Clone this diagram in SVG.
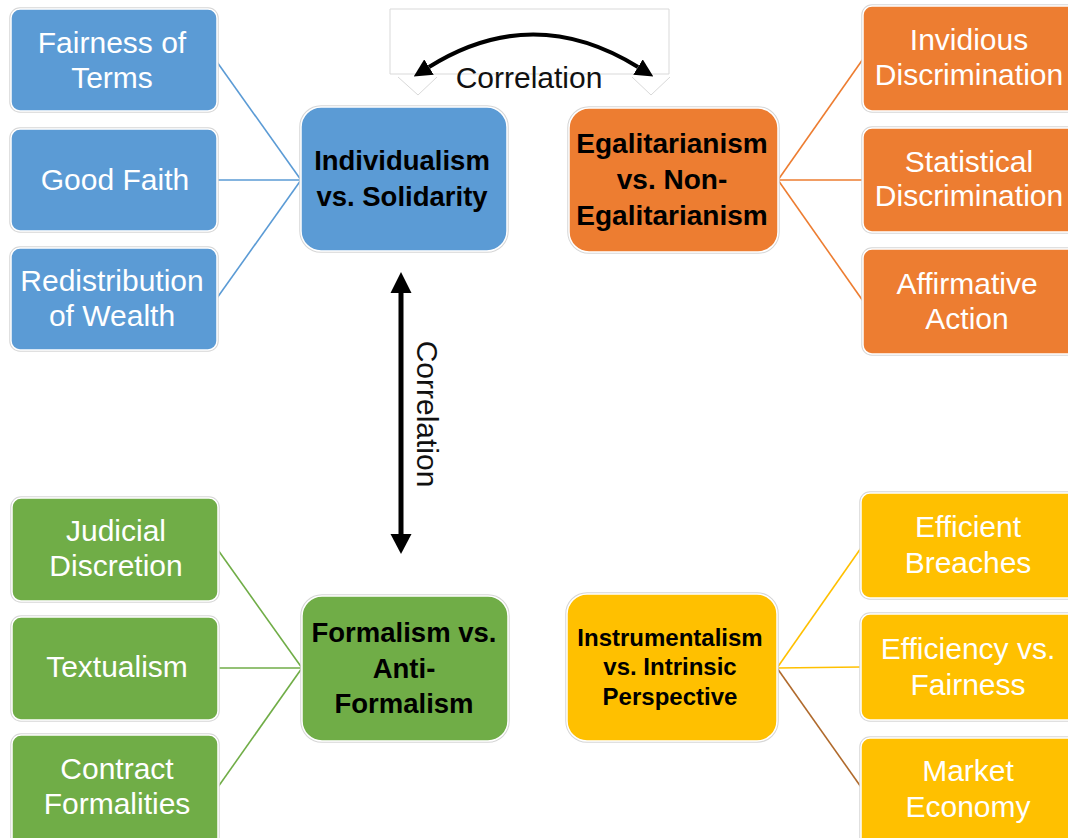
<svg xmlns="http://www.w3.org/2000/svg" width="1068" height="838" viewBox="0 0 1068 838">
<style>
.leaf{font-family:"Liberation Sans",Arial,sans-serif;font-size:30px;fill:#ffffff;text-anchor:middle}
.hub{font-family:"Liberation Sans",Arial,sans-serif;font-weight:bold;fill:#000000;text-anchor:middle}
.lbl{font-family:"Liberation Sans",Arial,sans-serif;font-size:30px;fill:#111111;text-anchor:middle}
.box{stroke:#ffffff;stroke-width:1.5}
.halo{fill:none;stroke:#d6d6d6;stroke-width:3.5}
.blue{fill:#5B9BD5}.orange{fill:#ED7D31}.green{fill:#70AD47}.yellow{fill:#FFC000}
.con{fill:none;stroke-width:1.6}
</style>
<defs>
<marker id="ah" viewBox="0 0 10 10" refX="0" refY="5" markerWidth="18" markerHeight="18" markerUnits="userSpaceOnUse" orient="auto-start-reverse">
<path d="M0,0 L10,5 L0,10 z" fill="#000"/>
</marker>
</defs>
<rect width="1068" height="838" fill="#ffffff"/>

<g id="connectors">
<line class="con" stroke="#5B9BD5" x1="217" y1="62" x2="301" y2="180"/>
<line class="con" stroke="#5B9BD5" x1="217" y1="180" x2="301" y2="180"/>
<line class="con" stroke="#5B9BD5" x1="217" y1="298" x2="301" y2="180"/>
<line class="con" stroke="#ED7D31" x1="778" y1="180" x2="863" y2="59"/>
<line class="con" stroke="#ED7D31" x1="778" y1="180" x2="863" y2="180"/>
<line class="con" stroke="#ED7D31" x1="778" y1="180" x2="863" y2="301"/>
<line class="con" stroke="#70AD47" x1="218" y1="550" x2="302" y2="668"/>
<line class="con" stroke="#70AD47" x1="218" y1="668" x2="302" y2="668"/>
<line class="con" stroke="#70AD47" x1="218" y1="787" x2="302" y2="668"/>
<line class="con" stroke="#FFC000" x1="777" y1="668" x2="861" y2="548"/>
<line class="con" stroke="#FFC000" x1="777" y1="668" x2="861" y2="667"/>
<line class="con" stroke="#B06A2C" x1="777" y1="668" x2="861" y2="787"/>
</g>

<g id="correlation-top">
<path d="M390 74 V9 H669 V74 M390 74 H669 M398 77 L418 95 L437 77 M632 77 L651 95 L670 77" fill="none" stroke="#d9d9d9" stroke-width="1"/>
<path d="M429 67 Q533 2 638 67" fill="none" stroke="#000" stroke-width="4" marker-start="url(#ah)" marker-end="url(#ah)"/>
<text class="lbl" x="529" y="88">Correlation</text>
</g>

<g id="correlation-vertical">
<line x1="401" y1="290" x2="401" y2="537" stroke="#000" stroke-width="5"/>
<polygon points="401,272 411.5,293 390.5,293" fill="#000"/>
<polygon points="401,554 411.5,534 390.5,534" fill="#000"/>
<text class="lbl" x="0" y="0" transform="translate(427,414) rotate(90)" dominant-baseline="central">Correlation</text>
</g>

<g id="hub-individualism">
<rect class="halo" x="301" y="107" width="206" height="144" rx="20"/>
<rect class="box blue" x="301" y="107" width="206" height="144" rx="20"/>
<text class="hub" font-size="27.5" x="402" y="170">Individualism</text>
<text class="hub" font-size="27.5" x="402" y="206">vs. Solidarity</text>
</g>
<g id="leaf-fairness-terms">
<rect class="halo" x="11" y="9" width="206" height="102" rx="9"/>
<rect class="box blue" x="11" y="9" width="206" height="102" rx="9"/>
<text class="leaf" x="112" y="53">Fairness of</text>
<text class="leaf" x="112" y="88">Terms</text>
</g>
<g id="leaf-good-faith">
<rect class="halo" x="11" y="129" width="206" height="102" rx="9"/>
<rect class="box blue" x="11" y="129" width="206" height="102" rx="9"/>
<text class="leaf" x="115" y="190">Good Faith</text>
</g>
<g id="leaf-redistribution">
<rect class="halo" x="11" y="248" width="206" height="102" rx="9"/>
<rect class="box blue" x="11" y="248" width="206" height="102" rx="9"/>
<text class="leaf" x="112" y="291">Redistribution</text>
<text class="leaf" x="112" y="326">of Wealth</text>
</g>

<g id="hub-egalitarianism">
<rect class="halo" x="569" y="108" width="209" height="144" rx="20"/>
<rect class="box orange" x="569" y="108" width="209" height="144" rx="20"/>
<text class="hub" font-size="28" x="672" y="153">Egalitarianism</text>
<text class="hub" font-size="28" x="672" y="189">vs. Non-</text>
<text class="hub" font-size="28" x="672" y="225">Egalitarianism</text>
</g>
<g id="leaf-invidious">
<rect class="halo" x="863" y="6" width="220" height="105" rx="9"/>
<rect class="box orange" x="863" y="6" width="220" height="105" rx="9"/>
<text class="leaf" x="969" y="50">Invidious</text>
<text class="leaf" x="969" y="85">Discrimination</text>
</g>
<g id="leaf-statistical">
<rect class="halo" x="863" y="128" width="220" height="104" rx="9"/>
<rect class="box orange" x="863" y="128" width="220" height="104" rx="9"/>
<text class="leaf" x="969" y="172">Statistical</text>
<text class="leaf" x="969" y="206">Discrimination</text>
</g>
<g id="leaf-affirmative">
<rect class="halo" x="863" y="249" width="220" height="105" rx="9"/>
<rect class="box orange" x="863" y="249" width="220" height="105" rx="9"/>
<text class="leaf" x="967" y="294">Affirmative</text>
<text class="leaf" x="967" y="329">Action</text>
</g>

<g id="hub-formalism">
<rect class="halo" x="302" y="596" width="206" height="145" rx="20"/>
<rect class="box green" x="302" y="596" width="206" height="145" rx="20"/>
<text class="hub" font-size="27.5" x="404" y="642">Formalism vs.</text>
<text class="hub" font-size="27.5" x="404" y="678">Anti-</text>
<text class="hub" font-size="27.5" x="404" y="713">Formalism</text>
</g>
<g id="leaf-judicial">
<rect class="halo" x="12" y="498" width="206" height="103" rx="9"/>
<rect class="box green" x="12" y="498" width="206" height="103" rx="9"/>
<text class="leaf" x="116" y="541">Judicial</text>
<text class="leaf" x="116" y="576">Discretion</text>
</g>
<g id="leaf-textualism">
<rect class="halo" x="12" y="617" width="206" height="103" rx="9"/>
<rect class="box green" x="12" y="617" width="206" height="103" rx="9"/>
<text class="leaf" x="117" y="677">Textualism</text>
</g>
<g id="leaf-contract">
<rect class="halo" x="12" y="735" width="206" height="112" rx="9"/>
<rect class="box green" x="12" y="735" width="206" height="112" rx="9"/>
<text class="leaf" x="117" y="779">Contract</text>
<text class="leaf" x="117" y="814">Formalities</text>
</g>

<g id="hub-instrumentalism">
<rect class="halo" x="567" y="594" width="210" height="147" rx="20"/>
<rect class="box yellow" x="567" y="594" width="210" height="147" rx="20"/>
<text class="hub" font-size="24" x="670" y="646">Instrumentalism</text>
<text class="hub" font-size="24" x="670" y="675">vs. Intrinsic</text>
<text class="hub" font-size="24" x="670" y="705">Perspective</text>
</g>
<g id="leaf-efficient-breaches">
<rect class="halo" x="861" y="493" width="222" height="105" rx="9"/>
<rect class="box yellow" x="861" y="493" width="222" height="105" rx="9"/>
<text class="leaf" x="968" y="537">Efficient</text>
<text class="leaf" x="968" y="573">Breaches</text>
</g>
<g id="leaf-efficiency-fairness">
<rect class="halo" x="861" y="614" width="222" height="106" rx="9"/>
<rect class="box yellow" x="861" y="614" width="222" height="106" rx="9"/>
<text class="leaf" x="968" y="659">Efficiency vs.</text>
<text class="leaf" x="968" y="695">Fairness</text>
</g>
<g id="leaf-market-economy">
<rect class="halo" x="861" y="738" width="222" height="110" rx="9"/>
<rect class="box yellow" x="861" y="738" width="222" height="110" rx="9"/>
<text class="leaf" x="968" y="781">Market</text>
<text class="leaf" x="968" y="817">Economy</text>
</g>
</svg>
